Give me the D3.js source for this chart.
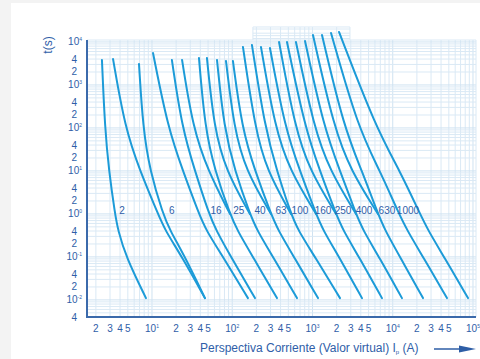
<!DOCTYPE html>
<html><head><meta charset="utf-8">
<script src="https://cdn.jsdelivr.net/npm/d3@7"></script>
<style>body{margin:0;background:#f3f3f3} svg{display:block}</style>
</head><body><svg id="c" width="480" height="359"></svg>
<script>
// ---- data ----
const xDomain = [1.55, 109000];          // prospective current (A)
const yDomain = [0.004, 11100];          // time (s)
const xTicks = [2,3,4,5,10,20,30,40,50,100,200,300,400,500,1000,2000,3000,4000,5000,10000,20000,30000,40000,50000,100000];
const yTicks = [0.004,0.01,0.02,0.04,0.1,0.2,0.4,1,2,4,10,20,40,100,200,400,1000,2000,4000,10000];

const mainRatings = [2,4,6,10,16,25,40,63,100,160,250,400,630,1000,1250];
const mainLevels = [100,10,1,0.42,0.1,0.011];
const mainTopCurrent = [2.38,3.27,6.89,10.3,17.7,38.5,64.6,102,176,295,481,807,1313,1702,2140];
const mainTopTime = [3810,4025,3080,5550,3810,4245,3810,3615,8510,7250,10000,10550,14550,16200,17100];
const mainCurrents = [
  [2.59,2.91,3.46,3.77,4.74,8.42],
  [4.61,7.08,11.9,14.5,23.7,45.7],
  [7.72,9.44,13.7,16.7,25.8,45.7],
  [15.8,24.3,38.5,47.1,76.7,157],
  [23.7,34.3,51.3,62.8,96.4,192],
  [45.7,60.9,93.7,115,181,361],
  [78.9,108,166,203,322,641],
  [132,192,304,372,588,1172],
  [256,361,540,659,1074,2203],
  [454,698,1107,1352,2140,4140],
  [807,1239,1963,2399,3793,7345],
  [1390,2203,3483,4256,6745,13030],
  [2472,4140,6546,8000,12300,23830],
  [3690,6936,11960,15070,23830,47400],
  [6180,12300,21880,27480,43550,86700]
];

const extraRatings = [20,32,50,80,125,200,315,500];
const extraLevels = [100,10,1];
const extraTopCurrent = [23.7,48.4,83.6,136,228,383,622,1014];
const extraTopTime = [3810,4245,3615,7650,7650,10000,10000,14550];
const extraCurrents = [
  [32.4,49.9,93.7],[59.3,83.6,166],[105,148,304],[192,271,540],
  [341,525,1107],[606,931,1963],[1045,1652,3483],[1853,3020,6546]
];

const labelText = ['2','6','16','25','40','63','100','160','250','400','630','1000'];
const labelCurrent = [4.23,17.7,62.8,121,222,405,698,1352,2399,4385,8470,15490];
const labelTime = 1.2;

const patchCurrent = [181, 2930];
const patchTimes = [12000,14000,16000,20000,22300];

// ---- drawing ----
const W=480,H=359;
const BLUE='#2f5ea8', CURVE='#1c9bd8', GRID='#dae9f5';
const svg=d3.select('#c').attr('font-family','"Liberation Sans", Arial, sans-serif');
svg.append('rect').attr('width',W).attr('height',H).attr('fill','#f3f3f3');
svg.append('rect').attr('x',11).attr('y',3).attr('width',W-11).attr('height',H-3).attr('fill','#fff');

const x=d3.scaleLog().domain(xDomain).range([87,476]);
const y=d3.scaleLog().domain(yDomain).range([317,40]);

const g=svg.append('g');
// grid
const xg = x.ticks().filter(v=>v>=xDomain[0]&&v<=xDomain[1]);
const yg = y.ticks().filter(v=>v>=yDomain[0]&&v<=yDomain[1]);
const isDec=v=>Math.abs(Math.log10(v)-Math.round(Math.log10(v)))<1e-9;
g.selectAll('.vg').data(xg).join('line')
  .attr('x1',d=>x(d)).attr('x2',d=>x(d)).attr('y1',y(yDomain[0])).attr('y2',y(yDomain[1]))
  .attr('stroke',d=>isDec(d)?'#cfe2f1':GRID).attr('stroke-width',1);
g.selectAll('.hg').data(yg).join('line')
  .attr('y1',d=>y(d)).attr('y2',d=>y(d)).attr('x1',x(xDomain[0])).attr('x2',x(xDomain[1]))
  .attr('stroke',d=>isDec(d)?'#cfe2f1':GRID).attr('stroke-width',1);
g.append('line').attr('x1',x(xDomain[0])).attr('x2',x(xDomain[1])).attr('y1',y(yDomain[1])).attr('y2',y(yDomain[1])).attr('stroke',GRID);
g.append('line').attr('x1',x(xDomain[1])).attr('x2',x(xDomain[1])).attr('y1',y(yDomain[0])).attr('y2',y(yDomain[1])).attr('stroke',GRID);
// top patch
const pTop=patchTimes[patchTimes.length-1];
g.selectAll('.pv').data(xg.filter(v=>v>=patchCurrent[0]&&v<=patchCurrent[1]).concat(patchCurrent)).join('line')
  .attr('x1',d=>x(d)).attr('x2',d=>x(d)).attr('y1',y(yDomain[1])).attr('y2',y(pTop))
  .attr('stroke',GRID);
g.selectAll('.ph').data(patchTimes).join('line')
  .attr('y1',d=>y(d)).attr('y2',d=>y(d)).attr('x1',x(patchCurrent[0])).attr('x2',x(patchCurrent[1]))
  .attr('stroke',GRID);

// curves
const line=d3.line().x(d=>x(d[0])).y(d=>y(d[1])).curve(d3.curveBasis);
const mains = mainRatings.map((r,i)=>[[mainTopCurrent[i],mainTopTime[i]]].concat(mainLevels.map((t,j)=>[mainCurrents[i][j],t])));
const extras = extraRatings.map((r,i)=>[[extraTopCurrent[i],extraTopTime[i]]].concat(extraLevels.map((t,j)=>[extraCurrents[i][j],t])));
g.selectAll('.cm').data(mains.concat(extras)).join('path')
  .attr('d',line).attr('fill','none').attr('stroke',CURVE).attr('stroke-width',2).attr('stroke-linecap','round');

// curve labels
g.selectAll('.cl').data(labelText).join('text')
  .attr('x',(d,i)=>x(labelCurrent[i])).attr('y',y(labelTime)).attr('dy','0.35em')
  .attr('text-anchor','middle').attr('font-size',10).attr('fill',BLUE).text(d=>d);

// axes lines
svg.append('line').attr('x1',x(xDomain[0])).attr('x2',x(xDomain[0])).attr('y1',y(yDomain[1])).attr('y2',y(yDomain[0])+1)
  .attr('stroke','#3b6aab').attr('stroke-width',2);
svg.append('line').attr('x1',x(xDomain[0])-1).attr('x2',x(xDomain[1])).attr('y1',y(yDomain[0])).attr('y2',y(yDomain[0]))
  .attr('stroke','#3b6aab').attr('stroke-width',2);

function tickLabel(sel,v){
  const e=Math.round(Math.log10(v));
  if(isDec(v)){
    sel.text('10');
    sel.append('tspan').attr('font-size',5).attr('dy',-4).text(String(e));
  } else {
    sel.text(String(Math.round(v/Math.pow(10,Math.floor(Math.log10(v)+1e-9)))));
  }
}
svg.selectAll('.xt').data(xTicks).join('text')
  .attr('x',d=>x(d)).attr('y',332).attr('text-anchor','middle').attr('font-size',10).attr('fill',BLUE)
  .each(function(d){tickLabel(d3.select(this),d);});
svg.selectAll('.yt').data(yTicks).join('text')
  .attr('x',d=>isDec(d)?82:77).attr('y',d=>y(d)).attr('dy','0.35em').attr('text-anchor','end').attr('font-size',10).attr('fill',BLUE)
  .each(function(d){tickLabel(d3.select(this),d);});

// titles
svg.append('text').attr('transform','translate(52,45) rotate(-90)').attr('text-anchor','middle')
  .attr('font-size',12).attr('fill',BLUE).text('t(s)');
const xt=svg.append('text').attr('x',200).attr('y',352).attr('font-size',12).attr('fill',BLUE);
xt.append('tspan').text('Perspectiva Corriente (Valor virtual) I');
xt.append('tspan').attr('font-size',6).attr('dy',2).text('p');
xt.append('tspan').attr('dy',-2).text(' (A)');
svg.append('line').attr('x1',434).attr('x2',462).attr('y1',349).attr('y2',349).attr('stroke','#2e5ea6').attr('stroke-width',1.5);
svg.append('path').attr('d','M459,345.5 L476,349 L459,352.5 Z').attr('fill','#2e5ea6');
</script></body></html>
